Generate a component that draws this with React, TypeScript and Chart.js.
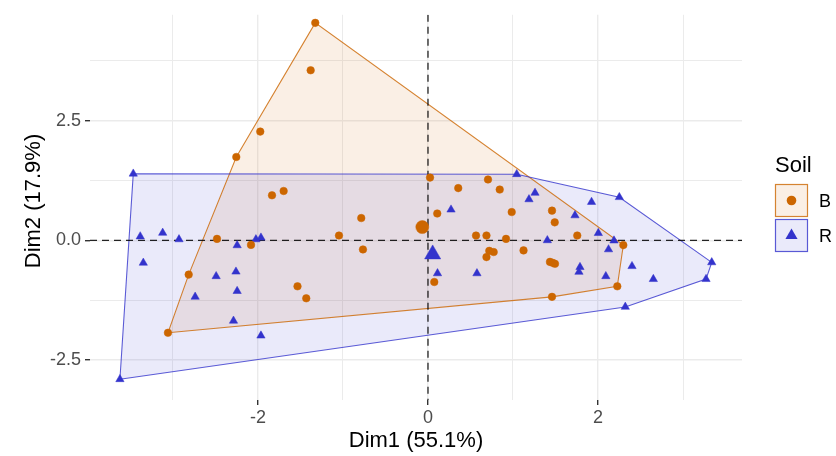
import React, { useEffect, useRef } from 'react';
import { Chart, registerables } from 'chart.js';

Chart.register(...registerables);

// ---- Data ----
const groupNames = ['B', 'R'];
const legendTitle = 'Soil';
const xTitle = 'Dim1 (55.1%)';
const yTitle = 'Dim2 (17.9%)';

const bX = [-1.326, -1.38, -1.973, -2.255, 0.024, -1.835, -1.698, 0.356, 0.706, 0.844, 0.109, 0.985, 1.459, 1.491, -0.785, 0.565, 0.688, 0.918, 1.756, 2.298, 0.721, 0.773, 0.688, 1.124, 1.435, 1.494, 1.467, 0.074, 2.227, 1.459, -3.059, -2.815, -2.482, -2.082, -1.047, -0.765, -1.535, -1.432];
const bY = [4.54, 3.55, 2.27, 1.74, 1.31, 0.94, 1.03, 1.09, 1.27, 1.06, 0.56, 0.59, 0.62, 0.375, 0.465, 0.1, 0.1, 0.03, 0.1, -0.1, -0.22, -0.245, -0.35, -0.21, -0.45, -0.49, -0.47, -0.87, -0.96, -1.18, -1.93, -0.715, 0.03, -0.095, 0.1, -0.19, -0.96, -1.21];

const rX = [-3.467, 1.044, 1.259, 1.188, 2.251, 1.924, 0.271, 1.729, 1.404, 2.004, 2.188, 2.124, 1.788, 1.776, 2.4, 2.651, 3.338, 3.271, 2.092, 2.321, 0.112, 0.576, -3.624, -3.385, -3.121, -2.929, -3.349, -2.245, -2.024, -1.965, -2.492, -2.259, -2.245, -2.739, -2.288, -1.965];
const rY = [1.39, 1.38, 0.99, 0.855, 0.9, 0.8, 0.64, 0.52, 0.0, 0.15, -0.005, -0.19, -0.56, -0.66, -0.54, -0.81, -0.46, -0.81, -0.75, -1.39, -0.69, -0.69, -2.9, 0.08, 0.155, 0.02, -0.47, -0.105, 0.02, 0.055, -0.75, -0.655, -1.06, -1.18, -1.68, -1.99];

const bMeanX = [-0.067];
const bMeanY = [0.277];
const rMeanX = [0.055];
const rMeanY = [-0.29];

const xTicks = [-3, -2, -1, 0, 1, 2, 3];
const xMajor = [-2, 0, 2];
const yTicks = [-2.5, -1.25, 0, 1.25, 2.5, 3.75];
const yMajor = [-2.5, 0, 2.5];

const X_MIN = -3.976;
const X_MAX = 3.694;
const Y_MIN = -3.333;
const Y_MAX = 4.708;

// ---- Styles ----
const ORANGE = 'rgb(204,102,0)';
const BLUE = 'rgb(51,51,204)';
const ORANGE_FILL = 'rgba(204,102,0,0.1)';
const BLUE_FILL = 'rgba(51,51,204,0.1)';
const ORANGE_LINE = 'rgba(204,102,0,0.8)';
const BLUE_LINE = 'rgba(51,51,204,0.8)';
const FONT = '"Liberation Sans", Arial, sans-serif';

function convexHull(xs: number[], ys: number[]): number[][] {
  const pts = xs.map((x, i) => [x, ys[i]]).sort((a, b) => a[0] - b[0] || a[1] - b[1]);
  const cross = (o: number[], a: number[], b: number[]) =>
    (a[0] - o[0]) * (b[1] - o[1]) - (a[1] - o[1]) * (b[0] - o[0]);
  const lower: number[][] = [];
  for (const p of pts) {
    while (lower.length >= 2 && cross(lower[lower.length - 2], lower[lower.length - 1], p) <= 0) lower.pop();
    lower.push(p);
  }
  const upper: number[][] = [];
  for (let i = pts.length - 1; i >= 0; i--) {
    const p = pts[i];
    while (upper.length >= 2 && cross(upper[upper.length - 2], upper[upper.length - 1], p) <= 0) upper.pop();
    upper.push(p);
  }
  upper.pop();
  lower.pop();
  return lower.concat(upper);
}

const toPoints = (xs: number[], ys: number[]) => xs.map((x, i) => ({ x, y: ys[i] }));

const hullPlugin = {
  id: 'hulls',
  beforeDatasetsDraw(chart: any) {
    const { ctx, chartArea, scales } = chart;
    const sx = scales.x;
    const sy = scales.y;
    const hulls = [
      { h: convexHull(bX, bY), fill: ORANGE_FILL, line: ORANGE_LINE },
      { h: convexHull(rX, rY), fill: BLUE_FILL, line: BLUE_LINE },
    ];
    const trace = (h: number[][]) => {
      ctx.beginPath();
      h.forEach((p, i) => {
        const px = sx.getPixelForValue(p[0]);
        const py = sy.getPixelForValue(p[1]);
        if (i === 0) ctx.moveTo(px, py);
        else ctx.lineTo(px, py);
      });
      ctx.closePath();
    };
    ctx.save();
    ctx.beginPath();
    ctx.rect(chartArea.left, chartArea.top, chartArea.right - chartArea.left, chartArea.bottom - chartArea.top);
    ctx.clip();
    for (const { h, fill } of hulls) {
      trace(h);
      ctx.fillStyle = fill;
      ctx.fill();
    }
    for (const { h, line } of hulls) {
      trace(h);
      ctx.strokeStyle = line;
      ctx.lineWidth = 1.1;
      ctx.stroke();
    }
    // reference dashed lines at 0
    ctx.strokeStyle = 'rgba(0,0,0,0.85)';
    ctx.lineWidth = 1.3;
    ctx.setLineDash([7, 5]);
    const x0 = sx.getPixelForValue(0);
    const y0 = sy.getPixelForValue(0);
    ctx.beginPath();
    ctx.moveTo(x0, chartArea.top);
    ctx.lineTo(x0, chartArea.bottom);
    ctx.stroke();
    ctx.beginPath();
    ctx.moveTo(chartArea.left, y0);
    ctx.lineTo(chartArea.right, y0);
    ctx.stroke();
    ctx.restore();
  },
};

const labelsPlugin = {
  id: 'soilLegend',
  afterDraw(chart: any) {
    const { ctx } = chart;
    ctx.save();
    // y axis title
    ctx.save();
    ctx.translate(34, 201);
    ctx.rotate(-Math.PI / 2);
    ctx.fillStyle = '#000';
    ctx.font = `22px ${FONT}`;
    ctx.textAlign = 'center';
    ctx.textBaseline = 'middle';
    ctx.fillText(yTitle, 0, 0);
    ctx.restore();

    ctx.fillStyle = '#000';
    ctx.textBaseline = 'alphabetic';
    ctx.textAlign = 'left';
    ctx.font = `22px ${FONT}`;
    ctx.fillText(legendTitle, 775, 172);
    const boxX = 775.5;
    const size = 32;
    const items = [
      { name: groupNames[0], top: 184.5, fill: ORANGE_FILL, line: ORANGE_LINE, color: ORANGE, shape: 'circle' },
      { name: groupNames[1], top: 219.5, fill: BLUE_FILL, line: BLUE_LINE, color: BLUE, shape: 'triangle' },
    ];
    for (const it of items) {
      ctx.fillStyle = '#fff';
      ctx.fillRect(boxX, it.top, size, size);
      ctx.fillStyle = it.fill;
      ctx.fillRect(boxX, it.top, size, size);
      ctx.strokeStyle = it.line;
      ctx.lineWidth = 1.2;
      ctx.strokeRect(boxX, it.top, size, size);
      const cx = boxX + size / 2;
      const cy = it.top + size / 2;
      ctx.fillStyle = it.color;
      ctx.beginPath();
      if (it.shape === 'circle') {
        ctx.arc(cx, cy, 4.8, 0, Math.PI * 2);
      } else {
        const r = 7;
        ctx.moveTo(cx, cy - r);
        ctx.lineTo(cx + r * Math.sin((2 * Math.PI) / 3), cy - r * Math.cos((2 * Math.PI) / 3));
        ctx.lineTo(cx + r * Math.sin((4 * Math.PI) / 3), cy - r * Math.cos((4 * Math.PI) / 3));
        ctx.closePath();
      }
      ctx.fill();
      ctx.fillStyle = '#000';
      ctx.font = `18px ${FONT}`;
      ctx.fillText(it.name, 819, cy + 6.5);
    }
    ctx.restore();
  },
};

const gridWidth = (major: number[]) => (c: any) => (major.includes(c.tick?.value) ? 1.4 : 1);
const tickMarkColor = (major: number[]) => (c: any) =>
  major.includes(c.tick?.value) ? '#333333' : 'rgba(0,0,0,0)';

export default function App() {
  const ref = useRef<HTMLCanvasElement | null>(null);

  useEffect(() => {
    if (!ref.current) return;
    const chart = new Chart(ref.current, {
      type: 'scatter',
      data: {
        datasets: [
          {
            label: groupNames[0],
            data: toPoints(bX, bY),
            pointStyle: 'circle',
            pointRadius: 3.8,
            pointBackgroundColor: ORANGE,
            pointBorderColor: ORANGE,
            pointBorderWidth: 0.5,
          },
          {
            label: groupNames[1],
            data: toPoints(rX, rY),
            pointStyle: 'triangle',
            pointRadius: 4.8,
            pointBackgroundColor: BLUE,
            pointBorderColor: BLUE,
            pointBorderWidth: 0.5,
          },
          {
            label: groupNames[0] + ' mean',
            data: toPoints(bMeanX, bMeanY),
            pointStyle: 'circle',
            pointRadius: 6.5,
            pointBackgroundColor: ORANGE,
            pointBorderColor: ORANGE,
            pointBorderWidth: 0.5,
          },
          {
            label: groupNames[1] + ' mean',
            data: toPoints(rMeanX, rMeanY),
            pointStyle: 'triangle',
            pointRadius: 9.3,
            pointBackgroundColor: BLUE,
            pointBorderColor: BLUE,
            pointBorderWidth: 0.5,
          },
        ] as any,
      },
      options: {
        responsive: false,
        animation: false,
        devicePixelRatio: 1,
        layout: { padding: { left: 0, right: 94, top: 14, bottom: 0 } },
        plugins: {
          legend: { display: false },
          tooltip: { enabled: false },
        },
        scales: {
          x: {
            type: 'linear',
            min: X_MIN,
            max: X_MAX,
            afterBuildTicks: (s: any) => {
              s.ticks = xTicks.map((v) => ({ value: v }));
            },
            afterFit: (s: any) => {
              s.height = 56;
            },
            ticks: {
              autoSkip: false,
              maxRotation: 0,
              padding: 2,
              color: '#4D4D4D',
              font: { family: FONT, size: 18 },
              callback: (v: any) => (xMajor.includes(Number(v)) ? String(v) : ''),
            },
            grid: {
              color: '#EBEBEB',
              lineWidth: gridWidth(xMajor) as any,
              tickLength: 5,
              tickColor: tickMarkColor(xMajor) as any,
              drawTicks: true,
            },
            border: { display: false },
            title: {
              display: true,
              text: xTitle,
              color: '#000',
              font: { family: FONT, size: 22 },
              padding: { top: 0, bottom: 2 },
            },
          },
          y: {
            type: 'linear',
            min: Y_MIN,
            max: Y_MAX,
            afterBuildTicks: (s: any) => {
              s.ticks = yTicks.map((v) => ({ value: v }));
            },
            afterFit: (s: any) => {
              s.width = 90;
            },
            ticks: {
              autoSkip: false,
              padding: 4,
              color: '#4D4D4D',
              font: { family: FONT, size: 18 },
              callback: (v: any) => (yMajor.includes(Number(v)) ? Number(v).toFixed(1) : ''),
            },
            grid: {
              color: '#EBEBEB',
              lineWidth: gridWidth(yMajor) as any,
              tickLength: 5,
              tickColor: tickMarkColor(yMajor) as any,
              drawTicks: true,
            },
            border: { display: false },
            title: { display: false },
          },
        },
      } as any,
      plugins: [hullPlugin, labelsPlugin],
    });
    return () => chart.destroy();
  }, []);

  return (
    <div style={{ position: 'fixed', left: 0, top: 0, width: 836, height: 456, background: '#fff' }}>
      <canvas ref={ref} width={836} height={456} style={{ display: 'block' }} />
    </div>
  );
}
